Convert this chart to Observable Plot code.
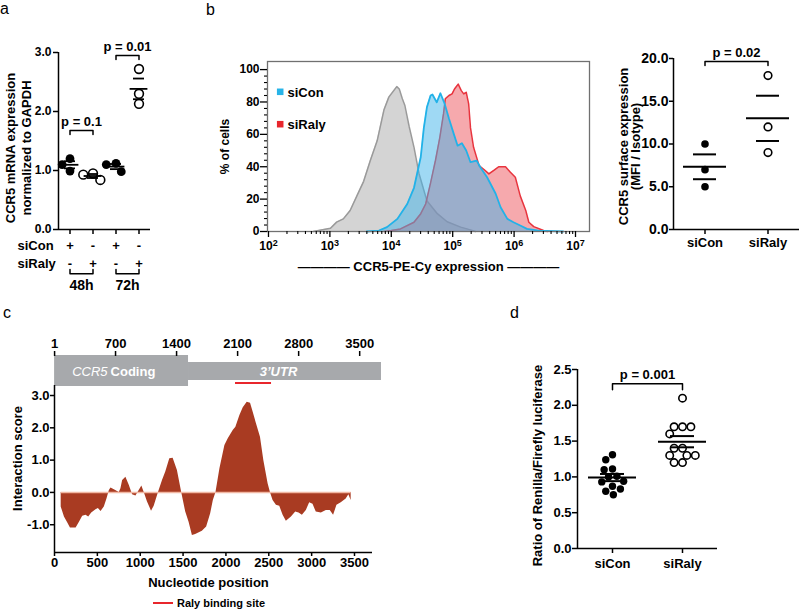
<!DOCTYPE html>
<html><head><meta charset="utf-8">
<script src="https://cdn.jsdelivr.net/npm/d3@7"></script>
<script src="https://cdn.jsdelivr.net/npm/@observablehq/plot@0.6"></script>
<style>
body{margin:0;background:#fff;}
#fig{position:relative;width:800px;height:609px;overflow:hidden;font-family:'Liberation Sans',Arial,Helvetica,sans-serif;color:#000;}
.plbl{position:absolute;font-size:16px;line-height:16px;}
</style></head><body><div id="fig"></div>
<script>
// ---------- Panel a data ----------
const aGroups = ["48h siCon", "48h siRaly", "72h siCon", "72h siRaly"];
const aSiCon = ["+", "-", "+", "-"];
const aSiRaly = ["-", "+", "-", "+"];
const aTimes = ["48h", "72h"];
const aValues = [[1.20, 1.10, 0.99], [0.95, 0.93, 0.84], [1.12, 1.10, 0.98], [2.72, 2.30, 2.13]];
const aFilled = [true, false, true, false];
const aPLabels = ["p = 0.1", "p = 0.01"];
const aPLevels = [1.68, 2.95];
const aBraceLevel = -0.75, aBraceTip = -0.68;

// ---------- Panel b histogram data (log10 expression, % of cells) ----------
const bIsoLog = [2.73, 3.01, 3.11, 3.22, 3.33, 3.44, 3.55, 3.66, 3.77, 3.88, 3.96, 4.09, 4.13, 4.18, 4.22, 4.29, 4.37, 4.45, 4.58, 4.75, 4.91, 5.13, 5.29, 5.37];
const bIsoPct = [0, 2, 5.8, 7.8, 13, 22, 31, 44, 56, 75, 83, 89.5, 88, 82, 78, 65, 52, 36, 19, 11, 6, 2.7, 1, 0];
const bConLog = [3.60, 3.80, 3.93, 4.10, 4.26, 4.37, 4.48, 4.53, 4.58, 4.64, 4.67, 4.74, 4.80, 4.87, 4.94, 5.02, 5.08, 5.15, 5.22, 5.29, 5.39, 5.45, 5.56, 5.70, 5.78, 5.89, 5.99, 6.10, 6.21, 6.40, 6.80];
const bConPct = [0, 0.6, 2.7, 7.8, 17, 27, 46, 64, 76.7, 84, 84.6, 79.8, 85.4, 78.8, 69.6, 60, 53, 54.5, 50, 42.8, 43.8, 39.7, 33.5, 23.3, 15, 7.8, 5.7, 3.7, 1.6, 0.5, 0];
const bRalyLog = [3.88, 4.00, 4.15, 4.37, 4.48, 4.56, 4.64, 4.72, 4.79, 4.85, 4.88, 4.94, 4.99, 5.03, 5.09, 5.14, 5.18, 5.22, 5.26, 5.29, 5.34, 5.43, 5.51, 5.59, 5.67, 5.75, 5.86, 5.94, 6.02, 6.10, 6.19, 6.24, 6.32, 6.48, 6.54];
const bRalyPct = [0, 0.6, 1.6, 5.7, 11, 17, 30, 44, 58, 72.6, 82, 84, 85, 88, 91, 87, 85, 86, 78.8, 64, 52, 40.7, 38.3, 35.6, 37.7, 40, 40, 36.6, 33.5, 22, 13, 5.7, 3, 0.6, 0];
const bLegend = ["siCon", "siRaly"];
const bDecades = [2, 3, 4, 5, 6, 7];

// ---------- Panel b scatter data ----------
const b2Groups = ["siCon", "siRaly"];
const b2Values = [[10, 7, 5], [18, 12, 9]];
const b2Filled = [true, false];
const b2PLabels = ["p = 0.02"];
const b2PLevels = [19.65];

// ---------- Panel c data ----------
const cPos = [78, 116, 155, 186, 252, 291, 329, 368, 399, 434, 484, 512, 543, 581, 612, 640, 659, 698, 756, 775, 795, 833, 872, 911, 950, 988, 1019, 1047, 1085, 1132, 1163, 1213, 1260, 1298, 1345, 1384, 1434, 1484, 1531, 1570, 1609, 1647, 1725, 1775, 1822, 1853, 1884, 1930, 1988, 2027, 2085, 2116, 2163, 2202, 2248, 2287, 2318, 2357, 2403, 2442, 2492, 2519, 2550, 2589, 2628, 2667, 2705, 2764, 2814, 2853, 2892, 2938, 2977, 3016, 3054, 3113, 3171, 3217, 3256, 3295, 3345, 3403, 3434, 3461];
const cScore = [-0.45, -0.76, -0.95, -1.10, -1.10, -0.92, -0.74, -0.71, -0.76, -0.64, -0.54, -0.50, -0.59, -0.45, -0.20, 0.06, 0.14, 0.08, 0.00, 0.11, 0.37, 0.47, 0.22, -0.07, -0.11, 0.06, 0.20, 0.00, -0.30, -0.58, -0.43, 0.00, 0.37, 0.63, 1.04, 1.06, 0.68, 0.00, -0.61, -0.92, -1.33, -1.30, -1.20, -1.07, -0.66, -0.25, 0.00, 0.73, 1.45, 1.66, 1.92, 2.02, 2.38, 2.62, 2.79, 2.76, 2.48, 2.12, 1.71, 0.99, 0.27, 0.00, -0.25, -0.40, -0.43, -0.71, -0.89, -0.76, -0.61, -0.64, -0.71, -0.56, -0.32, -0.37, -0.61, -0.64, -0.56, -0.56, -0.71, -0.40, -0.32, -0.20, -0.07, -0.25];
const cTopTicks = [1, 700, 1400, 2100, 2800, 3500];
const cBottomTicks = [0, 500, 1000, 1500, 2000, 2500, 3000, 3500];
const cYTicks = [-1, 0, 1, 2, 3];
const cRegionNames = ["CCR5 Coding", "3\u2019UTR"];
const cRegionStart = [1, 1537];
const cRegionEnd = [1537, 3750];
const cSite = [2076, 2489];
const cXDomain = [0, 3710];
const cYDomain = [-1.86, 3.31];

// ---------- Panel d data ----------
const dGroups = ["siCon", "siRaly"];
const dValues = [[1.31, 1.24, 1.11, 1.10, 1.01, 1.00, 0.94, 0.93, 0.87, 0.83, 0.80, 0.75],
                 [2.10, 1.70, 1.70, 1.70, 1.60, 1.40, 1.40, 1.30, 1.30, 1.30, 1.20, 1.20]];
const dFilled = [true, false];
const dPLabels = ["p = 0.001"];
const dPLevels = [2.30];

// ---------- helpers ----------
const FONT = "'Liberation Sans', Arial, Helvetica, sans-serif";
const fig = document.getElementById("fig");
function mount(node, left, top, w) {
  const d = document.createElement("div");
  d.style.cssText = `position:absolute;left:${left}px;top:${top}px;width:${w}px;`;
  d.appendChild(node); fig.appendChild(d);
}
function style(size) {
  return {fontFamily: FONT, fontSize: size + "px", fontWeight: "bold", background: "transparent", overflow: "visible", color: "#000"};
}
function stats(groups, values) {
  return groups.map((g, i) => {
    const v = values[i], m = d3.mean(v), se = d3.deviation(v) / Math.sqrt(v.length);
    return {g, mean: m, lo: m - se, hi: m + se};
  });
}
function points(groups, values, filled) {
  return groups.flatMap((g, i) => values[i].map(v => ({g, v, filled: filled[i]})));
}
// bracket drawn in host facet, from its centre (0) to the next group's centre (1)
function bracket(hosts, levels, drop) {
  return hosts.flatMap((g, k) => [[0, levels[k] - drop], [0, levels[k]], [1, levels[k]], [1, levels[k] - drop]]
    .map(([x, y]) => ({g, k, x, y})));
}
function scatterMarks({groups, values, filled, r, meanInset, seInset, sw}) {
  const pts = points(groups, values, filled);
  const st = stats(groups, values);
  return [
    Plot.dot(pts.filter(d => d.filled), Plot.dodgeX({anchor: "middle", padding: 1}, {fx: "g", y: "v", r, fill: "black", stroke: "none"})),
    Plot.dot(pts.filter(d => !d.filled), Plot.dodgeX({anchor: "middle", padding: 1}, {fx: "g", y: "v", r, fill: "white", stroke: "black", strokeWidth: 1.6})),
    Plot.tickY(st, {fx: "g", y: "mean", insetLeft: meanInset, insetRight: meanInset, strokeWidth: sw}),
    Plot.tickY(st, {fx: "g", y: "hi", insetLeft: seInset, insetRight: seInset, strokeWidth: sw}),
    Plot.tickY(st, {fx: "g", y: "lo", insetLeft: seInset, insetRight: seInset, strokeWidth: sw}),
    Plot.ruleX(st, {fx: "g", y1: "lo", y2: "hi", strokeWidth: sw})
  ];
}
function pMarks(hosts, labels, levels, drop, dy) {
  return [
    Plot.line(bracket(hosts, levels, drop), {fx: "g", x: "x", y: "y", z: "k", stroke: "black", strokeWidth: 1.5}),
    Plot.text(hosts.map((g, k) => ({g, t: labels[k], y: levels[k]})), {fx: "g", x: () => 0.5, y: "y", text: "t", lineAnchor: "bottom", dy, fontSize: 13})
  ];
}

// ---------- Panel a ----------
{
  const hosts = [aGroups[0], aGroups[2]];
  const plot = Plot.plot({
    width: 200, height: 300, marginLeft: 57, marginRight: 50, marginTop: 52, marginBottom: 71,
    style: style(12),
    fx: {domain: aGroups, padding: 0},
    x: {domain: [-0.5, 0.5], axis: null},
    y: {domain: [0, 3]},
    marks: [
      Plot.ruleY([0], {strokeWidth: 1.5}),
      Plot.ruleX([aGroups[0]], {fx: d => d, x: () => -0.5, strokeWidth: 1.5}),
      Plot.axisY({ticks: [0, 1, 2, 3], tickFormat: d => d.toFixed(1), tickSize: 5, tickPadding: 2, label: null, strokeWidth: 1.5}),
      Plot.axisFx({anchor: "bottom", tickSize: 5, tickFormat: () => "", label: null, strokeWidth: 1.5}),
      Plot.axisFx({anchor: "bottom", tickSize: 0, tickPadding: 11, tickFormat: g => aSiCon[aGroups.indexOf(g)], label: null, fontSize: 13}),
      Plot.axisFx({anchor: "bottom", tickSize: 0, tickPadding: 29, tickFormat: g => aSiRaly[aGroups.indexOf(g)], label: null, fontSize: 13}),
      Plot.text([{g: aGroups[0], t: "siCon"}], {fx: "g", text: "t", frameAnchor: "bottom-left", textAnchor: "start", lineAnchor: "top", dx: -41, dy: 11, fontSize: 13}),
      Plot.text([{g: aGroups[0], t: "siRaly"}], {fx: "g", text: "t", frameAnchor: "bottom-left", textAnchor: "start", lineAnchor: "top", dx: -41, dy: 29, fontSize: 13}),
      ...scatterMarks({groups: aGroups, values: aValues, filled: aFilled, r: 4.4, meanInset: 2.6, seInset: 6, sw: 1.8}),
      ...pMarks(hosts, aPLabels, aPLevels, 0.068, -4),
      Plot.line(bracket(hosts, [aBraceLevel, aBraceLevel], aBraceLevel - aBraceTip), {fx: "g", x: "x", y: "y", z: "k", stroke: "black", strokeWidth: 1.5}),
      Plot.text(hosts.map((g, k) => ({g, t: aTimes[k]})), {fx: "g", x: () => 0.5, text: "t", frameAnchor: "bottom", lineAnchor: "middle", dy: 56, fontSize: 14}),
      Plot.text([{g: aGroups[0]}], {fx: "g", text: () => "CCR5 mRNA expression\nnormalized to GAPDH", frameAnchor: "left", textAnchor: "middle", rotate: -90, dx: -41, dy: 7, lineAnchor: "middle", lineHeight: 1.23, fontSize: 13})
    ]
  });
  mount(plot, 0, 0, 200);
}

// ---------- Panel b histogram ----------
{
  const toPts = (logs, pcts) => logs.map((l, i) => ({x: 10 ** l, y: pcts[i]}));
  const iso = toPts(bIsoLog, bIsoPct), con = toPts(bConLog, bConPct), raly = toPts(bRalyLog, bRalyPct);
  const minorX = d3.range(2, 7).flatMap(k => d3.range(2, 10).map(m => m * 10 ** k));
  const minorY = d3.range(0, 101, 4).filter(v => v % 20 !== 0);
  const plot = Plot.plot({
    width: 400, height: 300, marginLeft: 67, marginRight: 11, marginTop: 61, marginBottom: 69,
    style: style(12),
    x: {type: "log", domain: [10 ** 1.984, 10 ** 7.228]},
    y: {domain: [0, 105]},
    marks: [
      Plot.areaY(iso, {x: "x", y: "y", fill: "#d4d4d4"}),
      Plot.lineY(iso, {x: "x", y: "y", stroke: "#9a9a9a", strokeWidth: 1.5}),
      Plot.areaY(raly, {x: "x", y: "y", fill: "#ed535b", fillOpacity: 0.5}),
      Plot.lineY(raly, {x: "x", y: "y", stroke: "#e8343e", strokeWidth: 1.5}),
      Plot.areaY(con, {x: "x", y: "y", fill: "#3fb4ea", fillOpacity: 0.5}),
      Plot.lineY(con, {x: "x", y: "y", stroke: "#22b2e8", strokeWidth: 1.8}),
      Plot.frame({stroke: "#707070", strokeWidth: 1.3}),
      Plot.axisX({ticks: bDecades.map(k => 10 ** k), tickFormat: d => "10^" + Math.round(Math.log10(d)), tickSize: 6, tickPadding: 4, label: null, strokeWidth: 1.3}),
      Plot.axisX({ticks: minorX, tickFormat: () => "", tickSize: 3, label: null, strokeWidth: 1.1}),
      Plot.axisY({ticks: d3.range(0, 101, 20), tickSize: 7, tickPadding: 1, label: null, strokeWidth: 1.3}),
      Plot.axisY({ticks: minorY, tickFormat: () => "", tickSize: 3, label: null, strokeWidth: 1.1}),
      Plot.text(["% of cells"], {text: d => d, frameAnchor: "left", textAnchor: "middle", rotate: -90, dx: -42, lineAnchor: "middle", fontSize: 12}),
      Plot.text(["\u2014\u2014\u2014\u2014 CCR5-PE-Cy expression \u2014\u2014\u2014\u2014"], {text: d => d, frameAnchor: "bottom", dy: 35, lineAnchor: "middle", fontSize: 13}),
      Plot.dot([bLegend[0]], {frameAnchor: "top-left", dx: 12.7, dy: 30.3, symbol: "square", r: 3.7, fill: "#27b4e8"}),
      Plot.dot([bLegend[1]], {frameAnchor: "top-left", dx: 12.7, dy: 62.7, symbol: "square", r: 3.7, fill: "#e8262c"}),
      Plot.text([bLegend[0]], {text: d => d, frameAnchor: "top-left", dx: 20, dy: 31, textAnchor: "start", lineAnchor: "middle", fontSize: 13}),
      Plot.text([bLegend[1]], {text: d => d, frameAnchor: "top-left", dx: 20, dy: 63.5, textAnchor: "start", lineAnchor: "middle", fontSize: 13})
    ]
  });
  plot.querySelectorAll("text").forEach(t => {
    const s = t.textContent;
    if (/^10\^\d$/.test(s)) {
      const [b, e] = s.split("^");
      t.textContent = "";
      const NS = "http://www.w3.org/2000/svg";
      const t1 = document.createElementNS(NS, "tspan"); t1.textContent = b; t.appendChild(t1);
      const t2 = document.createElementNS(NS, "tspan"); t2.textContent = e;
      t2.setAttribute("dy", "-0.45em"); t2.setAttribute("font-size", "9px"); t.appendChild(t2);
    }
  });
  mount(plot, 200, 0, 400);
}

// ---------- Panel b scatter ----------
{
  const plot = Plot.plot({
    width: 200, height: 300, marginLeft: 72, marginRight: 1, marginTop: 58, marginBottom: 71,
    style: style(14),
    fx: {domain: b2Groups, padding: 0},
    x: {domain: [-0.5, 0.5], axis: null},
    y: {domain: [0, 20]},
    marks: [
      Plot.ruleY([0], {strokeWidth: 1.5}),
      Plot.ruleX([b2Groups[0]], {fx: d => d, x: () => -0.5, strokeWidth: 1.5}),
      Plot.axisY({ticks: [0, 5, 10, 15, 20], tickFormat: d => d.toFixed(1), tickSize: 4, tickPadding: 1, label: null, strokeWidth: 1.5}),
      Plot.axisFx({anchor: "bottom", tickSize: 5, tickPadding: 3, label: null, strokeWidth: 1.5, fontSize: 13}),
      ...scatterMarks({groups: b2Groups, values: b2Values, filled: b2Filled, r: 3.8, meanInset: 10, seInset: 20, sw: 2}),
      ...pMarks([b2Groups[0]], b2PLabels, b2PLevels, 0.47, -4),
      Plot.text([{g: b2Groups[0]}], {fx: "g", text: () => "CCR5 surface expression\n(MFI / Isotype)", frameAnchor: "left", textAnchor: "middle", rotate: -90, dx: -43, dy: 2.5, lineAnchor: "middle", lineHeight: 0.92, fontSize: 13})
    ]
  });
  mount(plot, 600, 0, 200);
}

// ---------- Panel c track ----------
{
  const regions = cRegionNames.map((n, i) => ({n, s: cRegionStart[i], e: cRegionEnd[i], mid: (cRegionStart[i] + cRegionEnd[i]) / 2}));
  const words = regions[0].n.split(" ");
  const plot = Plot.plot({
    width: 420, height: 70, marginLeft: 54, marginRight: 48, marginTop: 35, marginBottom: 4,
    style: style(13),
    x: {domain: [0, 3647]},
    y: {domain: ["gene"], padding: 0, axis: null},
    marks: [
      Plot.barX([regions[0]], {x1: "s", x2: "e", y: () => "gene", fill: "#a7a9ac"}),
      Plot.barX([regions[1]], {x1: "s", x2: "e", y: () => "gene", fill: "#a7a9ac", insetTop: 7, insetBottom: 6}),
      Plot.barX([{s: cSite[0], e: cSite[1]}], {x1: "s", x2: "e", y: () => "gene", fill: "#e8262c", insetTop: 27, insetBottom: 2}),
      Plot.text([regions[0]], {x: "mid", y: () => "gene", text: () => words[0], textAnchor: "end", dx: -14, dy: 1, fill: "white", fontStyle: "italic", fontWeight: "normal", fontSize: 13}),
      Plot.text([regions[0]], {x: "mid", y: () => "gene", text: () => words[1], textAnchor: "start", dx: -11, dy: 1, fill: "white", fontSize: 13}),
      Plot.text([regions[1]], {x: "mid", y: () => "gene", text: "n", dx: -6.5, dy: 1, fill: "white", fontStyle: "italic", fontSize: 13}),
      Plot.axisX({anchor: "top", ticks: cTopTicks, tickFormat: d => String(d), tickSize: 5, tickPadding: 3, label: null, strokeWidth: 1.5})
    ]
  });
  mount(plot, 0, 320, 420);
}

// ---------- Panel c main ----------
{
  const data = cPos.map((x, i) => ({x, y: cScore[i]}));
  const plot = Plot.plot({
    width: 420, height: 314, marginLeft: 54, marginRight: 48, marginTop: 90, marginBottom: 57,
    style: style(13),
    x: {domain: cXDomain},
    y: {domain: cYDomain},
    marks: [
      Plot.areaY(data, {x: "x", y: "y", fill: "#a93b22"}),
      Plot.ruleY([0], {x1: d3.min(cPos), x2: d3.max(cPos), stroke: "#f1b7a3", strokeWidth: 1.5}),
      Plot.ruleX([cXDomain[0]], {strokeWidth: 1.5}),
      Plot.ruleY([cYDomain[0]], {strokeWidth: 1.5}),
      Plot.axisX({ticks: cBottomTicks, tickFormat: d => String(d), tickSize: 4, tickPadding: 1, label: null, strokeWidth: 1.5}),
      Plot.axisY({ticks: cYTicks, tickFormat: d => d.toFixed(1), tickSize: 4, tickPadding: 1, label: null, strokeWidth: 1.5}),
      Plot.text(["Interaction score"], {text: d => d, frameAnchor: "left", textAnchor: "middle", rotate: -90, dx: -37, dy: -10.5, lineAnchor: "middle", fontSize: 13}),
      Plot.text(["Nucleotide position"], {text: d => d, frameAnchor: "bottom", dx: -5, dy: 30, lineAnchor: "middle", fontSize: 13})
    ]
  });
  mount(plot, 0, 295, 420);
}

// ---------- Panel d ----------
{
  const plot = Plot.plot({
    width: 380, height: 314, marginLeft: 157, marginRight: 83, marginTop: 74, marginBottom: 61,
    style: style(13),
    fx: {domain: dGroups, padding: 0},
    x: {domain: [-0.5, 0.5], axis: null},
    y: {domain: [0, 2.5]},
    marks: [
      Plot.ruleY([0], {strokeWidth: 1.5}),
      Plot.ruleX([dGroups[0]], {fx: d => d, x: () => -0.5, strokeWidth: 1.5}),
      Plot.axisY({ticks: [0, 0.5, 1, 1.5, 2, 2.5], tickFormat: d => d.toFixed(1), tickSize: 5, tickPadding: 1, label: null, strokeWidth: 1.5}),
      Plot.axisFx({anchor: "bottom", tickSize: 5, tickPadding: 5, label: null, strokeWidth: 1.5}),
      ...scatterMarks({groups: dGroups, values: dValues, filled: dFilled, r: 3.7, meanInset: 11, seInset: 23, sw: 2}),
      ...pMarks([dGroups[0]], dPLabels, dPLevels, 0.084, -5),
      Plot.text([{g: dGroups[0]}], {fx: "g", text: () => "Ratio of Renilla/Firefly luciferase", frameAnchor: "left", textAnchor: "middle", rotate: -90, dx: -40, dy: 6.5, lineAnchor: "middle", fontSize: 13})
    ]
  });
  mount(plot, 420, 295, 380);
}

// ---------- panel letters & legend ----------
[["a", 0, 0.5], ["b", 206, 1.5], ["c", 3, 304.5], ["d", 510, 304.5]].forEach(([t, l, tp]) => {
  const s = document.createElement("div"); s.className = "plbl"; s.textContent = t;
  s.style.left = l + "px"; s.style.top = tp + "px"; fig.appendChild(s);
});
{
  const lg = document.createElement("div");
  lg.style.cssText = `position:absolute;left:153px;top:596px;height:14px;display:flex;align-items:center;gap:4px;font:bold 11px ${FONT};`;
  const ln = document.createElement("span");
  ln.style.cssText = "display:inline-block;width:20px;height:2px;background:#e8262c;";
  lg.appendChild(ln); lg.appendChild(document.createTextNode("Raly binding site"));
  fig.appendChild(lg);
}
</script></body></html>
